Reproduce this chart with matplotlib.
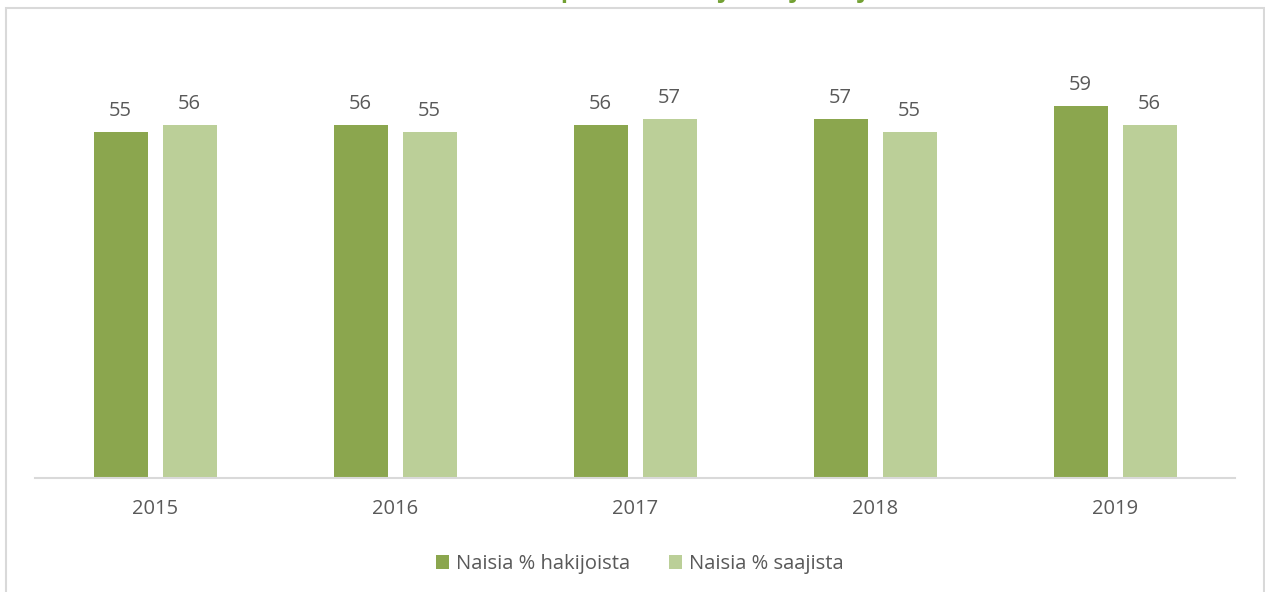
import numpy as np
import matplotlib
matplotlib.use("Agg")
import matplotlib.pyplot as plt
from matplotlib.patches import Rectangle

years = ["2015", "2016", "2017", "2018", "2019"]
hakijat = [55, 56, 56, 57, 59]
saajat = [56, 55, 57, 55, 56]
series_names = ["Naisia % hakijoista", "Naisia % saajista"]
title = "Naisten osuus (%) kaikista apurahan hakijoista ja saajista vuosittain"

dark_green = "#8BA64E"
light_green = "#BBCF98"
text_grey = "#595959"
line_grey = "#D9D9D9"

plt.rcParams["font.family"] = ["Open Sans", "DejaVu Sans"]

W, H = 1265, 592
fig = plt.figure(figsize=(W / 100, H / 100), dpi=100)
fig.patch.set_facecolor("white")

# chart frame (bottom edge runs past the canvas)
fig.patches.append(Rectangle((6 / W, -0.05), 1258 / W, 1.05 - 8 / H,
                             transform=fig.transFigure, fill=False,
                             edgecolor=line_grey, linewidth=1.5))

# title sits above the frame, only its lowest strokes reach the canvas
fig.text(0.5, 1 + 3 / H, title, ha="center", va="baseline",
         fontsize=17, fontweight="bold", color="#72A032")

ax = fig.add_axes([35 / W, (H - 478) / H, 1200 / W, 441 / H])
x = np.arange(len(years))
w = 0.225
gap = 15 / 240
b1 = ax.bar(x - (w + gap) / 2, hakijat, w, color=dark_green, label=series_names[0])
b2 = ax.bar(x + (w + gap) / 2, saajat, w, color=light_green, label=series_names[1])

for bars, vals in ((b1, hakijat), (b2, saajat)):
    for rect, v in zip(bars, vals):
        ax.annotate(str(v), (rect.get_x() + rect.get_width() / 2, v),
                    xytext=(0, 11.5), textcoords="offset points",
                    ha="center", va="baseline", fontsize=14.5, color=text_grey)

ax.set_xlim(-0.5, len(years) - 0.5)
ax.set_ylim(0, 70)
ax.set_xticks(x)
ax.set_xticklabels(years, fontsize=14.5, color=text_grey)
ax.tick_params(axis="x", length=0, pad=15)
ax.set_yticks([])
for s in ("top", "right", "left"):
    ax.spines[s].set_visible(False)
ax.spines["bottom"].set_color(line_grey)
ax.spines["bottom"].set_linewidth(1.5)

leg = fig.legend(loc="center", bbox_to_anchor=(640 / W, 1 - 564 / H),
                 ncol=2, frameon=False, fontsize=14.5, handlelength=0.65,
                 handleheight=0.65, handletextpad=0.35, columnspacing=1.9)
for t in leg.get_texts():
    t.set_color(text_grey)

fig.savefig("out.png", dpi=100)
